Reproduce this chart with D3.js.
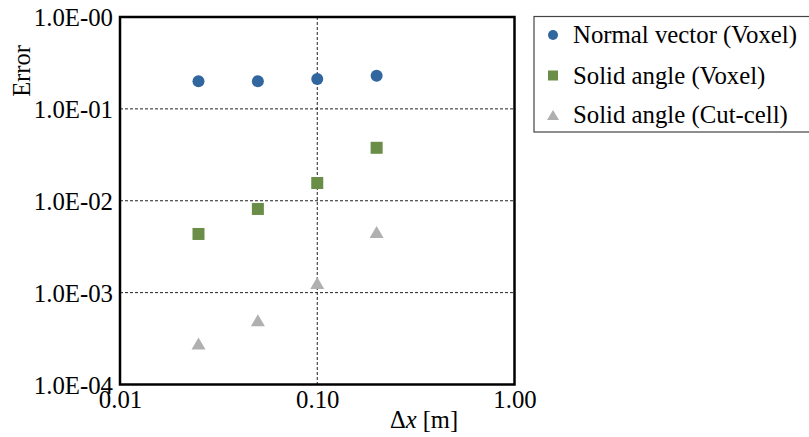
<!DOCTYPE html>
<html><head><meta charset="utf-8">
<script src="https://cdn.jsdelivr.net/npm/d3@7"></script>
<style>body{margin:0;background:#fff;} svg{display:block;} text{font-family:"Liberation Serif","Times New Roman",serif;}</style>
</head><body>
<svg id="c" width="809" height="437"></svg>
<script>
const dx = [0.025, 0.05, 0.1, 0.2];
const normalVoxel = [0.200, 0.200, 0.211, 0.229];
const solidVoxel = [0.00435, 0.00814, 0.0156, 0.0377];
const solidCutCell = [0.00028, 0.000499, 0.00127, 0.00456];
const seriesNames = ["Normal vector (Voxel)", "Solid angle (Voxel)", "Solid angle (Cut-cell)"];
const seriesColors = ["#31669e", "#6a8e47", "#b0b0b0"];
const seriesShapes = ["circle", "square", "triangle"];
const xTickVals = [0.01, 0.1, 1];
const xTickLabels = ["0.01", "0.10", "1.00"];
const yTickVals = [1, 0.1, 0.01, 0.001, 0.0001];
const yTickLabels = ["1.0E-00", "1.0E-01", "1.0E-02", "1.0E-03", "1.0E-04"];

const svg = d3.select("#c");
const L = 120, R = 514.5, T = 17, B = 384.5;
const x = d3.scaleLog().domain([0.01, 1]).range([L, R]);
const y = d3.scaleLog().domain([0.0001, 1]).range([B, T]);

// grid
const g = svg.append("g");
g.selectAll("line.h").data(yTickVals.filter(v => v < 1 && v > 0.0001)).join("line")
  .attr("x1", L).attr("x2", R).attr("y1", d => y(d)).attr("y2", d => y(d))
  .attr("stroke", "#222").attr("stroke-width", 1).attr("stroke-dasharray", "3,2");
g.selectAll("line.v").data(xTickVals.filter(v => v > 0.01 && v < 1)).join("line")
  .attr("y1", T).attr("y2", B).attr("x1", d => x(d)).attr("x2", d => x(d))
  .attr("stroke", "#222").attr("stroke-width", 1).attr("stroke-dasharray", "3,2");

// axes via d3 axis
const xAxis = d3.axisBottom(x).tickValues(xTickVals).tickFormat((d, i) => xTickLabels[i]).tickSize(0).tickPadding(6);
const yAxis = d3.axisLeft(y).tickValues(yTickVals).tickFormat((d, i) => yTickLabels[i]).tickSize(0).tickPadding(7);
const gx = svg.append("g").attr("transform", `translate(0,${B})`).call(xAxis);
const gy = svg.append("g").attr("transform", `translate(${L},0)`).call(yAxis);
[gx, gy].forEach(a => {
  a.attr("font-family", null);
  a.select(".domain").remove();
  a.selectAll("text").attr("font-size", 24.8).attr("fill", "#000");
});
gy.selectAll("text").attr("dy", "0.35em");
gx.selectAll("text").attr("dy", "0.71em");

// frame
svg.append("rect").attr("x", L).attr("y", T).attr("width", R - L).attr("height", B - T)
  .attr("fill", "none").attr("stroke", "#000").attr("stroke-width", 2.5);

// axis labels
const xl = svg.append("text").attr("x", 424).attr("y", 428).attr("text-anchor", "middle").attr("font-size", 24.5);
xl.append("tspan").text("Δ");
xl.append("tspan").attr("font-style", "italic").text("x");
xl.append("tspan").text(" [m]");
svg.append("text").attr("transform", "translate(30,71) rotate(-90)").attr("text-anchor", "middle")
  .attr("font-size", 24.5).text("Error");

function drawMarker(sel, shape, color) {
  if (shape === "circle") sel.append("circle").attr("r", 6).attr("fill", color);
  else if (shape === "square") sel.append("rect").attr("x", -6).attr("y", -6).attr("width", 12).attr("height", 12).attr("fill", color);
  else sel.append("path").attr("d", "M0,-6L7,6L-7,6Z").attr("fill", color);
}

const allSeries = [normalVoxel, solidVoxel, solidCutCell];
allSeries.forEach((vals, si) => {
  const pts = svg.append("g").selectAll("g").data(dx.map((d, i) => [d, vals[i]])).join("g")
    .attr("transform", d => `translate(${x(d[0])},${y(d[1])})`);
  pts.each(function () { drawMarker(d3.select(this), seriesShapes[si], seriesColors[si]); });
});

// legend
const lg = svg.append("g");
lg.append("rect").attr("x", 534).attr("y", 16.5).attr("width", 290).attr("height", 115.5)
  .attr("fill", "#fff").attr("stroke", "#444").attr("stroke-width", 1.2);
const rowY = [35, 75.5, 115];
seriesNames.forEach((n, i) => {
  const r = lg.append("g").attr("transform", `translate(553,${rowY[i]})`);
  if (seriesShapes[i] === "circle") r.append("circle").attr("r", 5).attr("fill", seriesColors[i]);
  else if (seriesShapes[i] === "square") r.append("rect").attr("x", -5).attr("y", -5).attr("width", 10).attr("height", 10).attr("fill", seriesColors[i]);
  else r.append("path").attr("d", "M0,-5L6,5L-6,5Z").attr("fill", seriesColors[i]);
  lg.append("text").attr("x", 573).attr("y", rowY[i] + 8).attr("font-size", 24.8).text(n);
});
</script>
</body></html>
